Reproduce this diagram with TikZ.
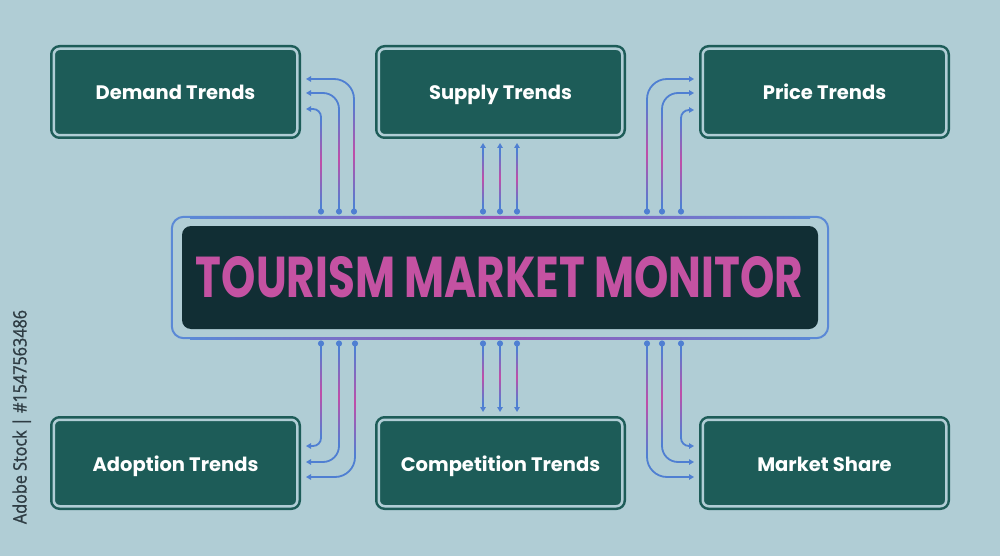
\documentclass[tikz,border=0pt]{standalone}
\usepackage{fontspec}
\setmainfont{Poppins}
\newfontfamily\sidefont{Open Sans}[FakeBold=1.2]
\usetikzlibrary{arrows.meta}
\definecolor{bg}{HTML}{B0CDD5}
\definecolor{boxteal}{HTML}{1D5C58}
\definecolor{cdark}{HTML}{112E34}
\definecolor{cblue}{HTML}{5B89D6}
\definecolor{cmid}{HTML}{9A55B8}
\definecolor{lblue}{HTML}{4F7FD2}
\definecolor{lmag}{HTML}{C04DA8}
\definecolor{ttlcol}{HTML}{C452A2}
\definecolor{sidecol}{HTML}{2E3C43}
\newcommand\vgr[3]{\shade[top color=lblue,bottom color=lblue,middle color=lmag] (#1-0.9,#2) rectangle (#1+0.9,#3);}
\begin{document}
\begin{tikzpicture}[x=1pt,y=-1pt,
  tbox/.style={draw=boxteal, double=bg, double distance=2.5pt, line width=2.5pt,
    fill=boxteal, rounded corners=6pt, minimum width=243.5pt, minimum height=86.5pt,
    inner sep=0pt, text=white, font=\bfseries\fontsize{19.5}{22}\selectfont,
    text height=16pt, text depth=0pt},
  conn/.style={lblue, line width=1.8pt, {Circle[length=6pt]}-{Triangle[length=5pt,width=5.5pt]}},
]
\useasboundingbox (0,0) rectangle (1000,556);
\fill[bg] (0,0) rectangle (1000,556);

% side text
\node[rotate=90, text=sidecol, inner sep=0pt, anchor=base] (wm) at (26.5,417)
  {\resizebox{214pt}{14pt}{\sidefont Adobe Stock | \#1547563486}};

% outer boxes
\node[tbox] (demand) at (175.5,92) {Demand Trends};
\node[tbox] (supply) at (500.5,92) {Supply Trends};
\node[tbox] (price) at (824.5,92) {Price Trends};
\node[tbox] (adoption) at (175.5,463) {Adoption Trends};
\node[tbox] (competition) at (500.5,463) {Competition Trends};
\node[tbox] (share) at (824.5,463) {Market Share};

% central box
\node[fill=cdark, rounded corners=9pt, minimum width=636pt, minimum height=103pt,
  inner sep=0pt] (center) at (500,277.5) {};
\draw[cblue, line width=2pt, rounded corners=12pt]
  ([shift={(-10,-9)}]center.north west) rectangle ([shift={(10,9)}]center.south east);
\shade[left color=cblue, right color=cblue, middle color=cmid] (190,216) rectangle (810,218);
\shade[left color=cblue, right color=cblue, middle color=cmid] (190,337) rectangle (810,339);
\node[text=ttlcol, inner sep=0pt] (ttl) at (499.5,277.5)
  {\resizebox{607pt}{41pt}{\bfseries TOURISM MARKET MONITOR}};

% connector coordinates
\coordinate (dtl1) at (354,214.5); \coordinate (atl1) at (306,79);
\coordinate (dtl2) at (339,214.5); \coordinate (atl2) at (306,93);
\coordinate (dtl3) at (321,214.5); \coordinate (atl3) at (306,109);
\coordinate (dtm1) at (483,214.5); \coordinate (atm1) at (483,143);
\coordinate (dtm2) at (500,214.5); \coordinate (atm2) at (500,143);
\coordinate (dtm3) at (517,214.5); \coordinate (atm3) at (517,143);
\coordinate (dtr1) at (647,214.5); \coordinate (atr1) at (694,79);
\coordinate (dtr2) at (662,214.5); \coordinate (atr2) at (694,93);
\coordinate (dtr3) at (681,214.5); \coordinate (atr3) at (694,110);
\coordinate (dbl1) at (321,340.5); \coordinate (abl1) at (306,446);
\coordinate (dbl2) at (339,340.5); \coordinate (abl2) at (306,462);
\coordinate (dbl3) at (355,340.5); \coordinate (abl3) at (306,477);
\coordinate (dbm1) at (483,340.5); \coordinate (abm1) at (483,412);
\coordinate (dbm2) at (500,340.5); \coordinate (abm2) at (500,412);
\coordinate (dbm3) at (517,340.5); \coordinate (abm3) at (517,412);
\coordinate (dbr1) at (681,340.5); \coordinate (abr1) at (694,446);
\coordinate (dbr2) at (662,340.5); \coordinate (abr2) at (694,462);
\coordinate (dbr3) at (647,340.5); \coordinate (abr3) at (694,477);

% connectors
\draw[conn, rounded corners=20pt] (dtl1) |- (atl1);
\draw[conn, rounded corners=16pt] (dtl2) |- (atl2);
\draw[conn, rounded corners=8pt] (dtl3) |- (atl3);
\draw[conn] (dtm1) -- (atm1);
\draw[conn] (dtm2) -- (atm2);
\draw[conn] (dtm3) -- (atm3);
\draw[conn, rounded corners=20pt] (dtr1) |- (atr1);
\draw[conn, rounded corners=16pt] (dtr2) |- (atr2);
\draw[conn, rounded corners=8pt] (dtr3) |- (atr3);
\draw[conn, rounded corners=8pt] (dbl1) |- (abl1);
\draw[conn, rounded corners=16pt] (dbl2) |- (abl2);
\draw[conn, rounded corners=20pt] (dbl3) |- (abl3);
\draw[conn] (dbm1) -- (abm1);
\draw[conn] (dbm2) -- (abm2);
\draw[conn] (dbm3) -- (abm3);
\draw[conn, rounded corners=8pt] (dbr1) |- (abr1);
\draw[conn, rounded corners=16pt] (dbr2) |- (abr2);
\draw[conn, rounded corners=20pt] (dbr3) |- (abr3);

% gradient overlays on the straight vertical parts
\vgr{354}{205}{102}\vgr{339}{205}{112}\vgr{321}{205}{120}
\vgr{483}{205}{152}\vgr{500}{205}{152}\vgr{517}{205}{152}
\vgr{647}{205}{102}\vgr{662}{205}{112}\vgr{681}{205}{120}
\vgr{321}{350}{436}\vgr{339}{350}{444}\vgr{355}{350}{455}
\vgr{483}{350}{403}\vgr{500}{350}{403}\vgr{517}{350}{403}
\vgr{681}{350}{436}\vgr{662}{350}{444}\vgr{647}{350}{455}
\end{tikzpicture}
\end{document}
